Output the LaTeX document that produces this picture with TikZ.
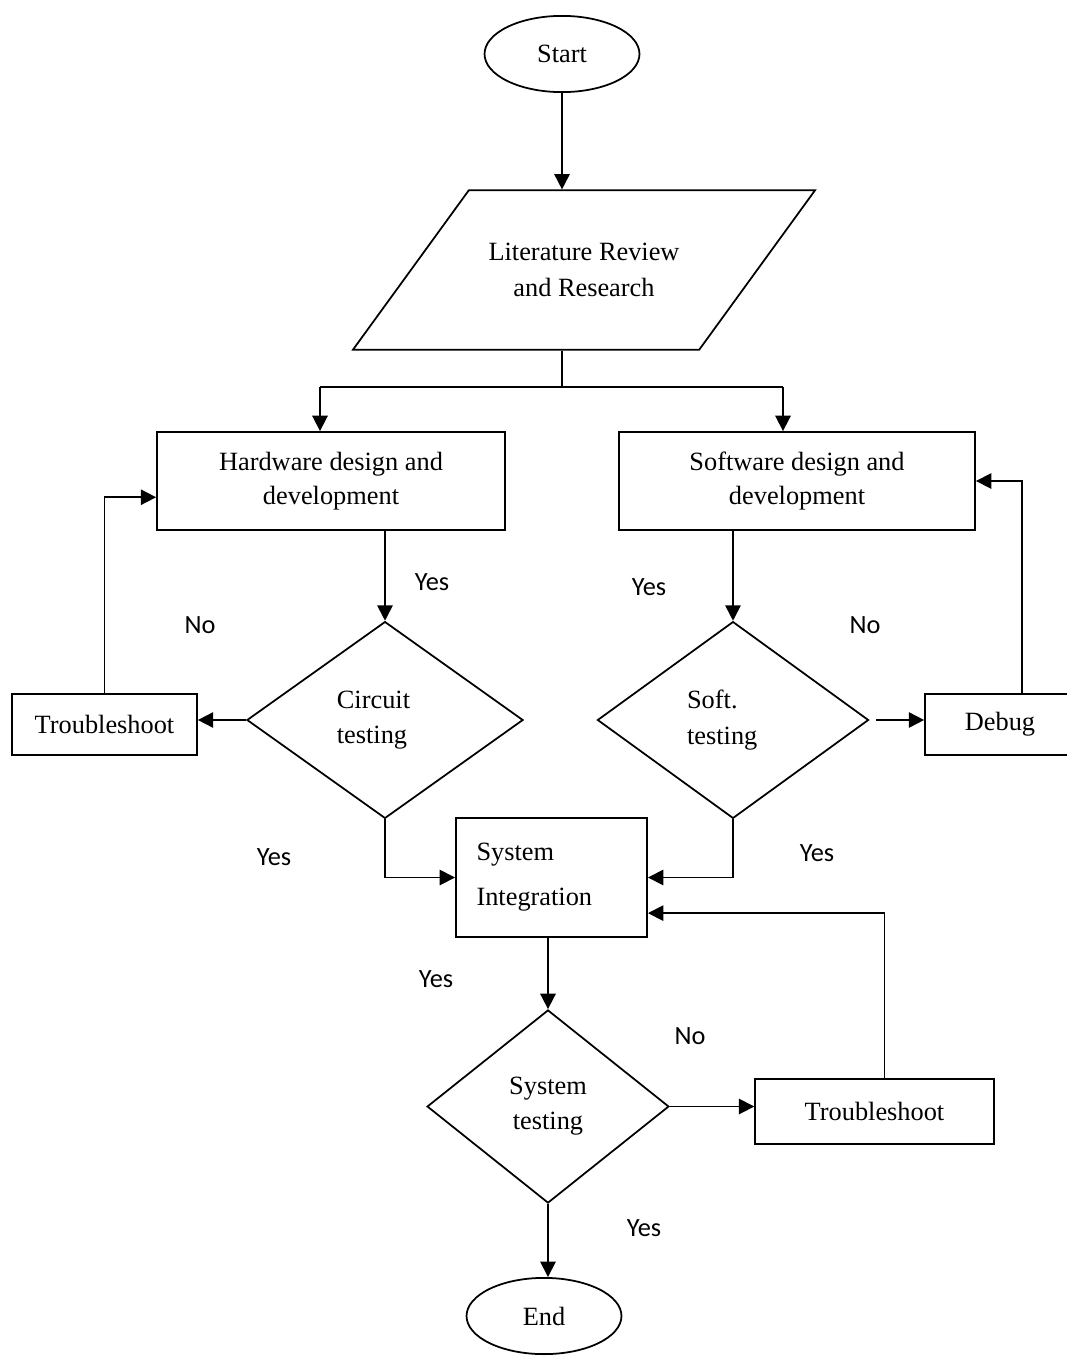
\documentclass[tikz,border=0pt]{standalone}
\usepackage{fontspec}
\setmainfont{Liberation Serif}
\newfontfamily\labelfont{Carlito}
\usetikzlibrary{shapes.geometric, arrows.meta, positioning}
\tikzstyle{terminal} = [ellipse, minimum width=2.48cm, minimum height=1.22cm, text centered, draw=black, thick, font=\fontsize{12}{15.5}\selectfont]
\tikzstyle{io} = [trapezium, trapezium left angle=54, trapezium right angle=126, inner xsep=9pt, inner ysep=24pt, align=center, draw=black, thick, font=\fontsize{12}{16.5}\selectfont]
\tikzstyle{process} = [rectangle, minimum height=1.57cm, align=center, draw=black, thick, font=\fontsize{12}{15.5}\selectfont]
\tikzstyle{decision} = [diamond, inner sep=0pt, align=left, draw=black, thick, font=\fontsize{12}{16}\selectfont]
\tikzstyle{answer} = [font=\labelfont\fontsize{12}{14}\selectfont]
\tikzstyle{arrow} = [thick,->,>={Triangle[length=7pt,width=7pt]}]

\begin{document}
\begin{tikzpicture}[x=0.016cm, y=-0.016cm]
        \useasboundingbox (0,0) rectangle (1066,1358);

        % Start and research
        \node (start) [terminal] at (562,54) {Start};
        \node (lit) [io] at (584,270) {Literature Review\\and Research};

        % Design blocks
        \node (hw) [process, minimum width=5.57cm] at (331,481) {Hardware design and\\development};
        \node (sw) [process, minimum width=5.7cm] at (797,481) {Software design and\\development};

        % Testing
        \node (circ) [decision, text width=1.54cm, minimum width=4.42cm, minimum height=3.15cm] at (385,720) {Circuit\\testing};
        \node (soft) [decision, text width=1.47cm, minimum width=4.34cm, minimum height=3.15cm] at (733,720) {Soft.\\testing};
        \node (ts1) [process, minimum width=2.96cm, minimum height=0.98cm] at (104.5,724.5) {Troubleshoot};
        \node (debug) [process, minimum width=2.4cm, minimum height=0.98cm] at (1000,724.5) {Debug};

        % Integration
        \node (si) [process, minimum width=3.06cm, minimum height=1.9cm, text width=2.4cm, align=left] at (551.5,877.5) {System\\[5pt]Integration};
        \node (sys) [decision, align=center, minimum width=3.87cm, minimum height=3.09cm] at (548,1106.5) {System\\testing};
        \node (ts2) [process, minimum width=3.82cm, minimum height=1.04cm] at (874.5,1111.5) {Troubleshoot};

        % End
        \node (end) [terminal] at (544,1316) {End};

        % Split points
        \coordinate (split) at (562,387);
        \coordinate (hwin) at (320,387);
        \coordinate (swin) at (783,387);

        % Arrows
        \draw [arrow] (start) -- (start |- lit.north);
        \draw [thick] (start |- lit.south) -- (split);
        \draw [thick] (hwin) -- (swin);
        \draw [arrow] (hwin) -- (hwin |- hw.north);
        \draw [arrow] (swin) -- (swin |- sw.north);

        \draw [arrow] (hw.south -| circ.north) -- (circ.north);
        \draw [arrow] (sw.south -| soft.north) -- (soft.north);
        \draw [arrow] (circ.west) -- (circ.west -| ts1.east);
        \draw [arrow, shorten <=3pt] (soft.east) -- (soft.east -| debug.west);
        \draw [arrow] (ts1.north) |- ([yshift=-0.26cm]hw.west);
        \draw [arrow] ([xshift=0.35cm]debug.north) |- (sw.east);

        \draw [arrow] (circ.south) |- (si.west);
        \draw [arrow] (soft.south) |- (si.east);
        \draw [arrow] ([xshift=0.16cm]ts2.north) |- ([yshift=-0.57cm]si.east);
        \draw [arrow] (si.south -| sys.north) -- (sys.north);
        \draw [arrow] (sys.east) -- (sys.east -| ts2.west);
        \draw [arrow] (sys.south) -- (sys.south |- end.north);

        % Answers
        \node (y1) [answer] at (432,582) {Yes};
        \node (n1) [answer] at (200,625) {No};
        \node (y2) [answer] at (649,587) {Yes};
        \node (n2) [answer] at (865,625) {No};
        \node (y3) [answer] at (274,857) {Yes};
        \node (y4) [answer] at (817,853) {Yes};
        \node (y5) [answer] at (436,979) {Yes};
        \node (n3) [answer] at (690,1036) {No};
        \node (y6) [answer] at (644,1228) {Yes};
    \end{tikzpicture}
\end{document}
